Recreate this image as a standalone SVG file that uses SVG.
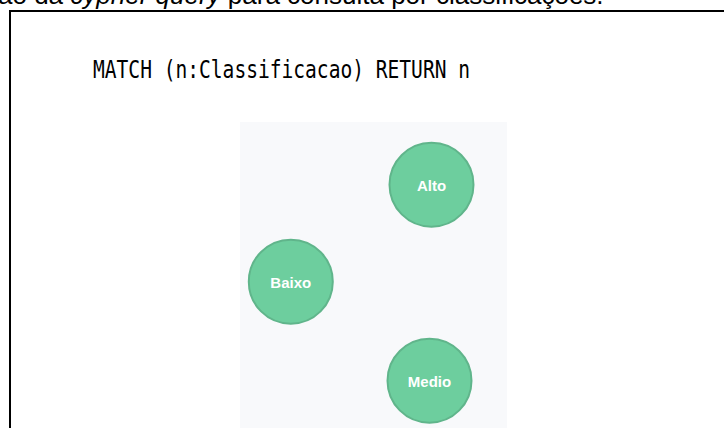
<svg xmlns="http://www.w3.org/2000/svg" width="724" height="428" viewBox="0 0 724 428">
<style>
.cap{font-family:"Liberation Sans",Arial,sans-serif;font-size:26px;fill:#000}
.q{font-family:"DejaVu Sans Mono","Liberation Mono",monospace;font-size:24px;fill:#000}
.node circle{fill:#6DCE9E;stroke:#60B58B;stroke-width:2}
.node text{font-family:"Liberation Sans",Arial,sans-serif;font-size:15px;font-weight:bold;fill:#fff;text-anchor:middle}
</style>
<rect x="0" y="0" width="724" height="428" fill="#fff"/>
<text class="cap" x="-2" y="4">ão da <tspan font-style="italic">cypher query</tspan> para consulta por classificações.</text>
<rect x="10" y="11" width="730" height="440" fill="none" stroke="#000" stroke-width="2"/>
<text class="q" x="93" y="78" textLength="377" lengthAdjust="spacingAndGlyphs">MATCH (n:Classificacao) RETURN n</text>
<rect x="240" y="122" width="267" height="310" fill="#f8f9fb"/>
<g id="connectors"></g>
<g id="node-alto" class="node"><circle cx="431.5" cy="184.7" r="42"/><text x="431.5" y="191">Alto</text></g>
<g id="node-baixo" class="node"><circle cx="290.8" cy="281.7" r="42"/><text x="290.8" y="288">Baixo</text></g>
<g id="node-medio" class="node"><circle cx="429.5" cy="380.7" r="42"/><text x="429.5" y="387">Medio</text></g>
</svg>
